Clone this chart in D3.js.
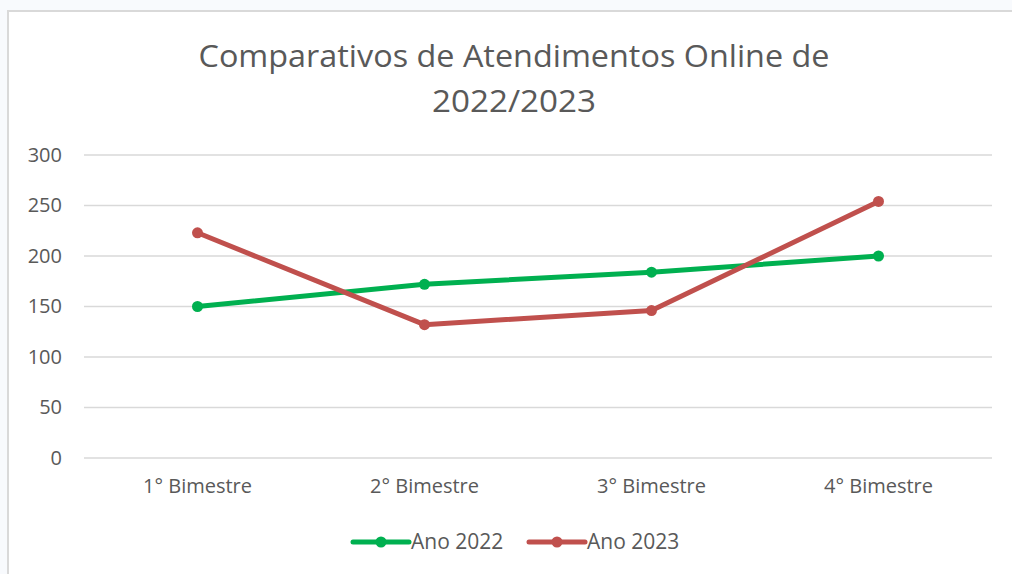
<!DOCTYPE html>
<html lang="pt">
<head>
  <meta charset="UTF-8">
  <title>Comparativos de Atendimentos Online</title>
  <script src="https://d3js.org/d3.v7.min.js"></script>
  <style>
    body { margin: 0; background: #f8fafd; }
    text { font-family: "Open Sans", sans-serif; fill: #595959; }
  </style>
</head>
<body>
  <script>
    // data
    var categories = ["1° Bimestre", "2° Bimestre", "3° Bimestre", "4° Bimestre"];
    var ano2022 = [150, 172, 184, 200];
    var ano2023 = [223, 132, 146, 254];
    var seriesNames = ["Ano 2022", "Ano 2023"];
    var seriesColors = ["#00b050", "#c0504d"];
    var yTicks = [0, 50, 100, 150, 200, 250, 300];

    const width = 1012, height = 574;

    var svg = d3.select("body").append("svg")
      .attr("width", width)
      .attr("height", height);

    // chart area frame
    svg.append("rect")
      .attr("x", 8)
      .attr("y", 11)
      .attr("width", width)
      .attr("height", height)
      .attr("fill", "#fff")
      .attr("stroke", "#d9d9d9")
      .attr("stroke-width", 2);

    // title
    var title = svg.append("text")
      .attr("text-anchor", "middle")
      .style("font-size", "31px");
    title.append("tspan").attr("x", 514).attr("y", 67)
      .attr("textLength", 631).attr("lengthAdjust", "spacingAndGlyphs")
      .text("Comparativos de Atendimentos Online de");
    title.append("tspan").attr("x", 514).attr("y", 112)
      .attr("textLength", 164).attr("lengthAdjust", "spacingAndGlyphs")
      .text("2022/2023");

    const left = 84, right = 992;

    var x = d3.scaleBand()
      .domain(categories)
      .range([left, right]);

    var y = d3.scaleLinear()
      .domain([0, 300])
      .range([458, 155]);

    // gridlines
    svg.append("g")
      .selectAll("line")
      .data(yTicks)
      .enter().append("line")
      .attr("x1", left)
      .attr("x2", right)
      .attr("y1", d => y(d))
      .attr("y2", d => y(d))
      .attr("stroke", "#d9d9d9")
      .attr("stroke-width", 1.5);

    // y axis labels
    var yAxis = svg.append("g")
      .attr("transform", "translate(62,0)")
      .call(d3.axisLeft(y).tickValues(yTicks).tickSize(0).tickPadding(0));
    yAxis.select(".domain").remove();
    yAxis.selectAll("text")
      .style("font-size", "20px")
      .style("font-family", "Open Sans, sans-serif")
      .attr("fill", "#595959");

    // x axis labels
    var xAxis = svg.append("g")
      .attr("transform", "translate(0,479)")
      .call(d3.axisBottom(x).tickSize(0).tickPadding(0));
    xAxis.select(".domain").remove();
    xAxis.selectAll("text")
      .style("font-size", "20px")
      .style("font-family", "Open Sans, sans-serif")
      .attr("fill", "#595959");

    var series = [ano2022, ano2023];
    var line = d3.line()
      .x((d, i) => x(categories[i]) + x.bandwidth() / 2)
      .y(d => y(d));

    series.forEach(function (vals, s) {
      svg.append("path")
        .datum(vals)
        .attr("d", line)
        .attr("fill", "none")
        .attr("stroke", seriesColors[s])
        .attr("stroke-width", 5)
        .attr("stroke-linejoin", "round")
        .attr("stroke-linecap", "round");

      svg.append("g")
        .selectAll("circle")
        .data(vals)
        .enter().append("circle")
        .attr("cx", (d, i) => x(categories[i]) + x.bandwidth() / 2)
        .attr("cy", d => y(d))
        .attr("r", 5.5)
        .attr("fill", seriesColors[s]);
    });

    // legend
    var legend = svg.append("g").attr("transform", "translate(0,542)");
    var legendX = [353, 529];
    seriesNames.forEach(function (name, s) {
      var g = legend.append("g").attr("transform", "translate(" + legendX[s] + ",0)");
      g.append("line")
        .attr("x1", 0).attr("x2", 56)
        .attr("stroke", seriesColors[s])
        .attr("stroke-width", 5)
        .attr("stroke-linecap", "round");
      g.append("circle")
        .attr("cx", 28).attr("r", 5.5)
        .attr("fill", seriesColors[s]);
      g.append("text")
        .attr("x", 58)
        .attr("dy", "0.35em")
        .style("font-size", "21px")
        .text(name);
    });
  </script>
</body>
</html>
